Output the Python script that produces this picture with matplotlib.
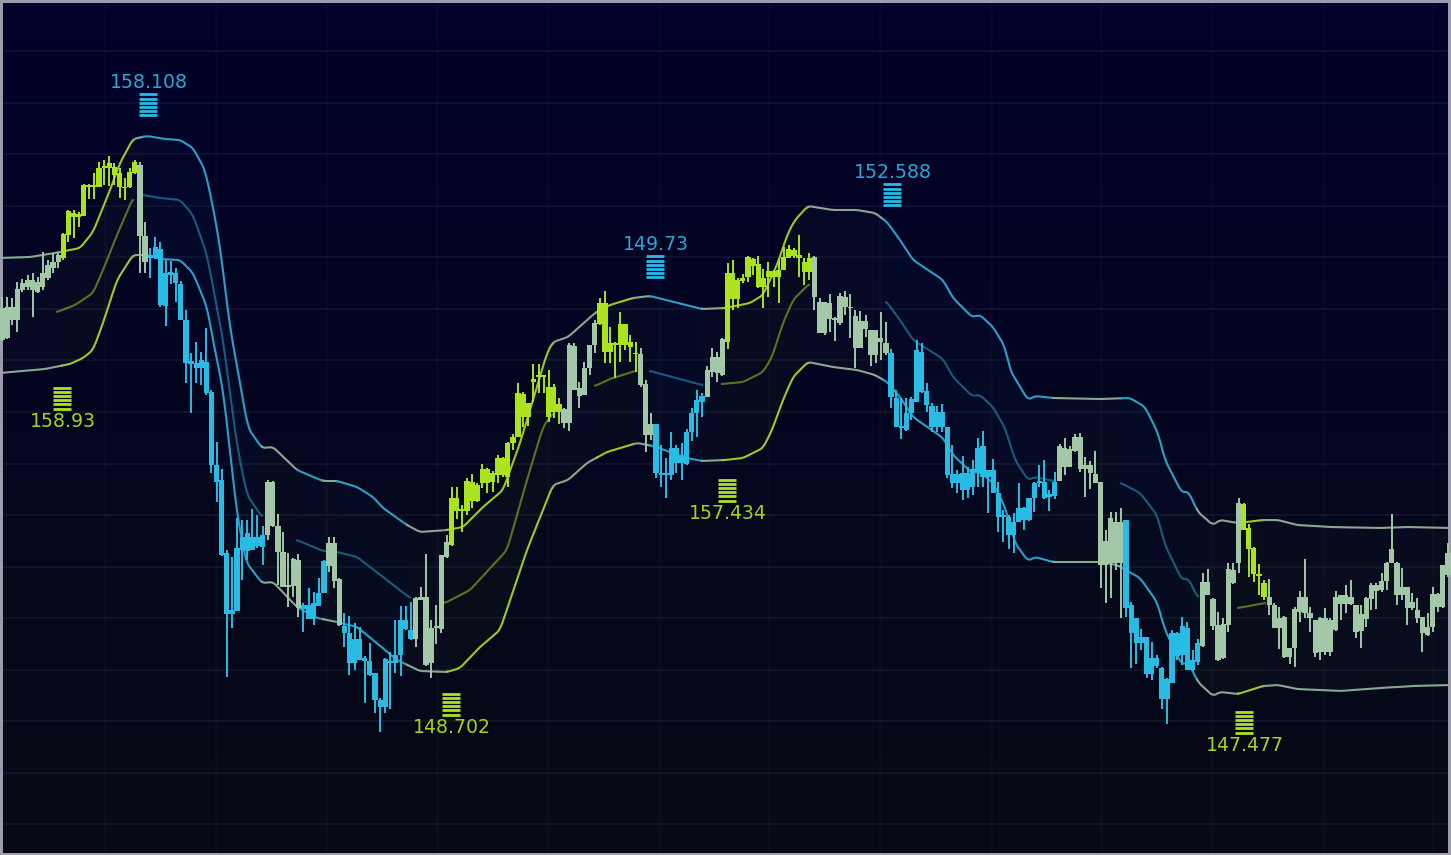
import matplotlib
matplotlib.use("Agg")
import matplotlib.pyplot as plt
import numpy as np

# Chart levels, in the chart's own scale (the axis is flipped, no price axis is shown)
wick_high = [
    297,297,298,282,279,275,273,277,252,260, 253,252,233,210,210,212,184,184,173,162,
    160,156,163,168,178,168,160,162,222,248, 237,242,260,261,268,281,310,353,342,352,
    328,390,442,469,550,557,518,520,520,509, 515,526,480,481,514,532,553,558,554,603,
    588,592,578,560,537,537,578,613,616,623, 627,656,643,673,698,658,652,620,606,606,
    602,597,587,554,620,605,555,535,487,487, 505,478,474,483,464,468,471,455,457,442,
    434,383,392,403,364,364,375,370,384,398, 408,343,343,382,362,345,320,298,291,327,
    342,312,324,335,342,348,380,413,424,445, 458,432,445,443,429,408,390,393,366,348,
    352,338,263,260,278,274,256,258,256,269, 262,270,258,247,245,248,235,258,253,256,
    298,302,294,317,293,291,294,310,311,315, 330,330,312,322,349,390,398,398,397,340,
    343,383,403,406,404,427,445,470,456,467, 460,438,431,470,459,482,510,515,513,483,
    507,498,482,465,460,490,472,444,438,446, 434,433,457,461,451,482,530,512,512,508,
    520,602,618,629,637,642,655,667,678,630, 632,617,622,650,639,573,569,598,612,618,
    563,563,498,503,524,547,564,580,579,603, 607,616,648,607,591,559,607,620,617,608,
    618,591,595,585,580,605,605,597,583,583, 573,562,514,562,568,587,593,598,617,613,
    587,593,565,543,
]
body_top = [
    308,307,307,289,283,280,280,282,273,265, 262,255,234,211,213,214,185,185,185,168,
    166,163,167,173,187,172,162,165,236,255, 247,249,273,272,273,284,320,361,363,360,
    362,392,465,480,553,610,548,537,533,537, 537,535,482,482,526,552,585,559,560,605,
    605,603,593,561,543,543,579,626,633,639, 639,658,661,673,700,659,661,655,620,620,
    630,598,597,597,628,626,555,542,498,498, 509,481,482,485,469,469,473,458,458,443,
    437,393,394,403,379,375,375,387,387,404, 409,345,346,388,368,345,323,303,303,343,
    343,324,324,342,353,354,384,424,424,473, 473,448,448,455,432,413,400,396,370,357,
    357,339,273,273,280,278,257,259,264,278, 271,271,270,257,249,250,255,262,258,257,
    302,302,303,318,296,297,307,316,321,321, 330,330,338,343,353,398,426,413,399,350,
    352,391,406,412,412,427,474,474,473,473, 469,448,446,470,470,493,515,517,522,508,
    508,498,483,481,482,494,482,446,448,449, 437,437,465,465,474,482,541,518,522,522,
    520,605,618,637,637,658,658,668,679,633, 633,626,628,660,643,582,582,599,625,624,
    569,570,503,504,528,548,574,583,597,605, 618,617,648,609,597,597,613,620,618,618,
    620,597,595,595,597,605,614,598,585,585, 581,563,549,563,587,587,602,610,617,627,
    594,594,565,553,
]
body_bottom = [
    340,338,320,320,290,287,290,292,287,278, 268,262,258,235,217,217,216,187,187,187,
    168,168,175,187,188,187,173,236,262,258, 258,305,306,275,283,320,363,364,368,368,
    393,465,482,555,614,614,611,550,551,550, 546,547,535,526,552,587,587,586,608,609,
    619,619,606,593,566,581,625,633,663,663, 660,661,675,700,707,707,663,663,655,629,
    639,639,600,665,663,628,629,557,545,511, 511,511,501,501,483,483,482,475,475,477,
    443,437,417,417,382,377,377,417,412,412, 423,423,390,396,395,368,345,324,352,352,
    345,345,345,347,354,385,435,435,473,475, 475,475,463,463,464,432,413,402,397,372,
    373,375,342,299,299,281,277,266,287,287, 277,277,277,270,258,256,258,272,272,297,
    333,333,319,320,323,307,308,348,348,329, 355,355,342,353,397,427,428,430,413,402,
    392,405,427,427,427,475,483,483,490,490, 487,472,477,477,493,517,517,535,535,522,
    520,520,498,483,498,497,496,481,467,467, 451,469,469,473,483,565,565,563,563,563,
    608,633,643,643,674,674,666,699,699,683, 656,655,670,670,662,646,595,626,660,658,
    625,583,563,530,549,574,576,597,605,628, 628,657,657,648,612,613,618,653,652,652,
    652,630,604,604,604,632,631,619,599,591, 590,581,563,595,595,608,608,618,633,635,
    627,607,607,575,
]
wick_low = [
    341,339,325,332,292,290,317,293,290,280, 273,268,260,242,238,227,216,199,199,187,
    185,186,185,198,200,188,174,273,273,278, 259,307,326,284,302,320,383,413,383,385,
    395,473,502,556,677,628,611,580,560,550, 548,565,540,527,585,587,607,597,617,632,
    619,625,606,593,572,588,626,647,675,670, 660,703,676,713,732,713,709,673,676,630,
    640,647,600,666,678,644,633,558,546,519, 532,515,508,502,488,493,492,483,477,487,
    450,437,427,426,402,393,393,422,418,424, 428,431,390,408,395,375,353,325,363,363,
    378,362,350,362,372,387,452,440,478,487, 498,480,473,480,465,441,437,417,397,377,
    382,376,349,310,308,283,282,275,288,308, 297,287,303,270,258,258,277,285,280,310,
    333,335,332,341,325,315,338,368,348,337, 366,363,360,355,408,427,439,431,420,402,
    393,412,432,432,432,478,488,493,500,498, 495,487,487,513,493,532,542,549,553,522,
    530,521,512,487,499,511,499,481,475,467, 452,472,497,489,483,588,603,598,570,618,
    617,668,664,650,678,680,668,709,724,683, 660,665,670,671,665,647,595,630,661,659,
    632,584,573,530,577,582,595,600,615,628, 649,658,664,667,622,618,632,657,660,655,
    656,631,620,613,605,638,648,627,610,609, 592,590,563,605,600,625,610,623,652,636,
    632,612,608,577,
]
run_kinds = ["g","l","g","b","g","b","g","b","g","l","g","l","g","b","g","l","g","b","g","b","g","l","g"]
run_lengths = [12,15,2,23,7,5,3,14,7,22,7,8,3,10,4,17,15,33,13,15,8,5,36]

# Band lines
upper_x = [0,30,55,80,93,110,120,133,147,165,180,193,205,213,220,230,248,262,273,297,323,337,357,373,383,407,420,447,
           463,483,503,520,533,547,553,568,577,595,610,633,650,702,725,750,763,777,788,795,808,833,857,875,887,900,913,
           943,953,972,980,993,1005,1010,1028,1035,1053,1100,1130,1145,1158,1165,1182,1188,1198,1213,1220,1238,1263,
           1278,1297,1330,1380,1407,1451]
upper_y = [258,257,253,248,232,190,163,139,136,139,140,148,170,207,247,327,428,448,447,470,481,481,487,497,508,525,532,530,
           527,507,490,443,400,353,342,337,329,313,305,298,296,309,308,303,295,265,233,220,206,210,210,213,222,240,260,
           280,298,317,315,327,347,370,400,396,398,399,398,407,433,460,493,491,512,525,520,523,520,
           520,525,527,528,527,528]
lower_x = [0,45,70,83,93,103,117,133,147,160,180,193,207,213,223,237,246,262,273,297,317,337,357,373,397,420,447,
           460,480,500,527,553,568,587,607,637,653,687,702,725,743,763,772,783,793,808,833,857,875,887,900,913,
           943,953,972,980,993,1005,1015,1028,1035,1053,1100,1117,1140,1157,1165,1182,1188,1198,1213,1220,1238,1263,
           1278,1297,1340,1380,1413,1451]
lower_y = [373,369,364,358,350,323,280,255,255,259,260,273,307,340,390,513,562,583,582,607,618,622,627,640,660,671,672,
           668,647,630,550,485,480,463,452,443,446,458,461,460,458,448,430,400,377,362,367,370,375,382,397,417,
           438,455,473,472,483,507,543,561,557,562,562,565,578,602,630,665,662,682,696,692,694,686,
           685,689,691,688,686,685]

# Middle line, only there where the band has a trend colour
mid_x = [[57,75,93,103,117,133],
         [143,160,180,193,207,223,237,247,262],
         [297,323,337,357,383,410],
         [445,470,507,527,543,553],
         [595,610,635],
         [650,702],
         [722,743,763,772,783,793,809],
         [886,900,913,943,953,972,980,993,1005,1015,1028,1035,1053],
         [1121,1140,1157,1165,1182,1188,1198],
         [1238,1265]]
mid_y = [[312,305,293,270,235,198],
         [195,198,200,215,255,340,445,495,517],
         [540,551,552,557,577,598],
         [603,590,550,480,427,413],
         [386,379,371],
         [371,385],
         [384,382,372,357,323,300,284],
         [301,320,340,359,377,396,395,407,428,460,480,477,481],
         [483,493,515,545,580,578,598],
         [608,603]]
mid_kinds = ["l","b","b","l","l","b","l","b","b","l"]

# Where the band colour changes
band_edges = [0,62,133,143,262,297,323,337,407,447,553,597,633,650,702,723,808,883,1053,1121,1197,1238,1263,1451]
band_kinds = ["g","l","g","b","g","b","g","b","g","l","g","l","g","b","g","l","g","b","g","b","g","l","g"]

# Markers
marker_x = [148,892,655,62,727,451,1244]
marker_y = [105,195,267,398,490,704,722]
marker_text = ["158.108","152.588","149.73","158.93","157.434","148.702","147.477"]
marker_kinds = ["b","b","b","l","l","l","l"]

candle_colors = {"g": "#A2C8A8", "l": "#ACE31F", "b": "#28BCE5"}
line_colors = {"g": "#8AA890", "l": "#9CCB1E", "b": "#2A9FC8"}
text_colors = {"l": "#A6D41E", "b": "#2AA6D2"}


# Only rounds off the corners between the read points when the line is drawn
def smoothLine(xs, ys, window=7):
    grid_x = np.arange(xs[0], xs[-1] + 0.5, 1.0)
    grid_y = np.interp(grid_x, xs, ys)
    pad = window // 2
    padded = np.r_[np.full(pad, grid_y[0]), grid_y, np.full(pad, grid_y[-1])]
    return grid_x, np.convolve(padded, np.ones(window) / window, mode="valid")


fig = plt.figure(figsize=(14.51, 8.55), dpi=100)
ax = fig.add_axes([0, 0, 1, 1])
ax.set_xlim(0, 1451)
ax.set_ylim(855, 0)

# Background gradient
grad = np.linspace(0, 1, 256).reshape(-1, 1, 1)
top_col = np.array([1, 1, 42]).reshape(1, 1, 3) / 255
bot_col = np.array([7, 10, 20]).reshape(1, 1, 3) / 255
ax.imshow(top_col + (bot_col - top_col) * grad, extent=[0, 1451, 855, 0], aspect="auto", zorder=0)

# Grid
ax.set_xticks(np.arange(105, 1451, 110.7))
ax.set_yticks(np.arange(51.5, 855, 51.5))
ax.grid(True, axis="y", color="#ffffff", alpha=0.05, lw=1.4)
ax.grid(True, axis="x", color="#ffffff", alpha=0.022, lw=1.8)
ax.set_axisbelow(True)
ax.tick_params(length=0, labelbottom=False, labelleft=False)
for side in ax.spines:
    ax.spines[side].set_color("#9C9CAC")
ax.spines["top"].set_linewidth(4.3)
ax.spines["left"].set_linewidth(4.3)
ax.spines["right"].set_linewidth(4.3)
ax.spines["bottom"].set_linewidth(2.9)

# Band
up_x, up_y = smoothLine(upper_x, upper_y)
lo_x, lo_y = smoothLine(lower_x, lower_y)
for k in range(len(band_kinds)):
    x0, x1 = band_edges[k], band_edges[k + 1]
    mask_up = (up_x >= x0) & (up_x <= x1)
    mask_lo = (lo_x >= x0) & (lo_x <= x1)
    col = line_colors[band_kinds[k]]
    ax.fill(np.r_[up_x[mask_up], lo_x[mask_lo][::-1]], np.r_[up_y[mask_up], lo_y[mask_lo][::-1]],
            color=col, alpha=0.03, lw=0, zorder=1)
    ax.plot(up_x[mask_up], up_y[mask_up], color=col, lw=1.5, zorder=2)
    ax.plot(lo_x[mask_lo], lo_y[mask_lo], color=col, lw=1.5, zorder=2)

for k in range(len(mid_kinds)):
    m_x, m_y = smoothLine(mid_x[k], mid_y[k])
    ax.plot(m_x, m_y, color=line_colors[mid_kinds[k]], lw=1.5, alpha=0.55, zorder=2)

# Candles
candle_kinds = []
for k in range(len(run_kinds)):
    candle_kinds += [run_kinds[k]] * run_lengths[k]
candle_x = np.linspace(2, 1448, len(wick_high))
colors = [candle_colors[k] for k in candle_kinds]
ax.vlines(candle_x, wick_high, wick_low, colors=colors, lw=1.4, zorder=3)
heights = np.array(body_bottom) - np.array(body_top)
ax.bar(candle_x, heights, bottom=body_top, width=5.2, color=colors, lw=0, zorder=3)

# Markers
stripes = np.arange(-10.5, 12, 4.2)
for k in range(len(marker_x)):
    kind = marker_kinds[k]
    ys = marker_y[k] + stripes
    ax.hlines(ys, marker_x[k] - 8.7, marker_x[k] + 8.7, colors=candle_colors[kind], lw=2.0, zorder=4)
    # blue labels sit over the stack, lime ones under it
    off = -22.5 if kind == "b" else 23.5
    ax.text(marker_x[k] + 0.5, marker_y[k] + off, marker_text[k], color=text_colors[kind], fontsize=13.6,
            family="DejaVu Sans", ha="center", va="center", zorder=4)

fig.savefig("out.png", dpi=100)
